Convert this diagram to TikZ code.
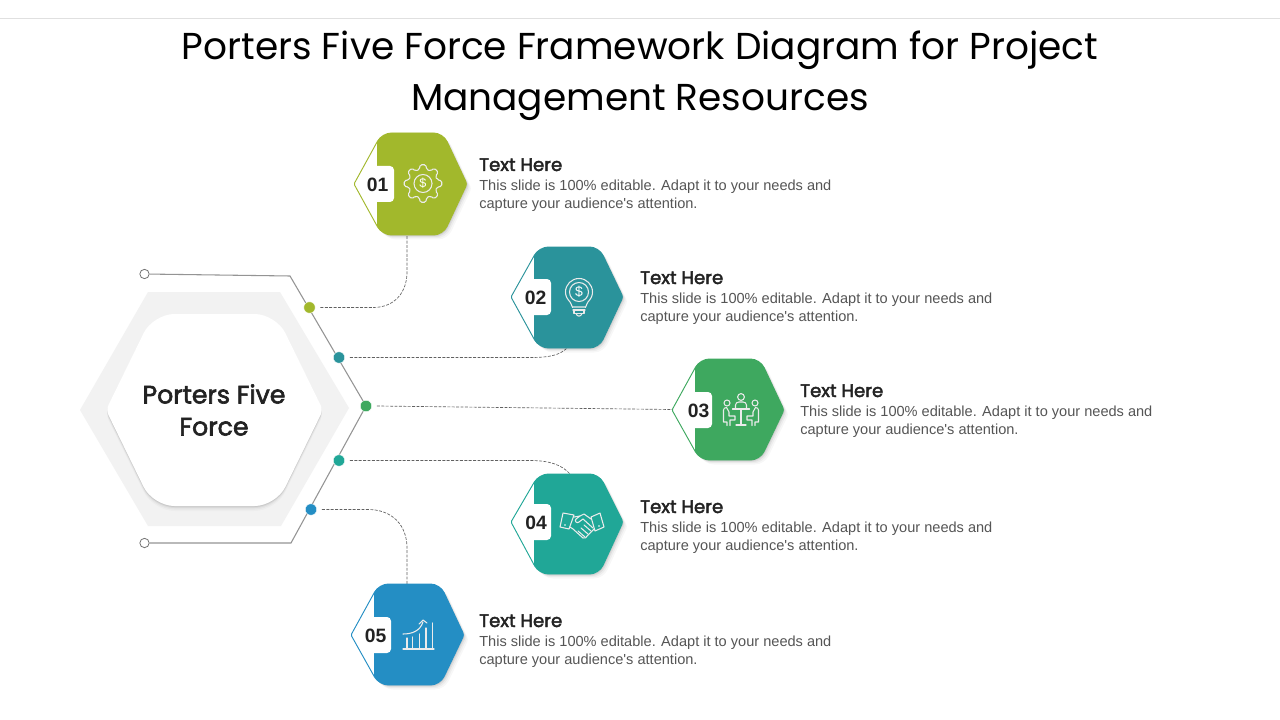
\documentclass[tikz,border=0pt]{standalone}
\usepackage{fontspec}
\setmainfont{Liberation Sans}
\newfontfamily\gothic{Poppins}
\newfontfamily\gothicb[FakeBold=2.4]{Poppins}
\usetikzlibrary{calc}
\definecolor{cA}{HTML}{A2B82C}
\definecolor{cB}{HTML}{2A939B}
\definecolor{cC}{HTML}{3EA85F}
\definecolor{cD}{HTML}{20A797}
\definecolor{cE}{HTML}{248EC4}
\definecolor{ink}{HTML}{222222}
\definecolor{bodyink}{HTML}{555555}
\tikzset{
  x=0.75pt,y=-0.75pt,
  dashlink/.style={draw=black!62,line width=0.5pt,dash pattern=on 2.2pt off 1.1pt},
  bracket/.style={draw=black!42,line width=0.8pt},
  dot/.style={circle,inner sep=0pt,minimum size=8.6pt,draw=white,line width=0.3pt,fill=#1},
  ring/.style={circle,inner sep=0pt,minimum size=7pt,draw=black!55,line width=0.6pt,fill=white},
  ico/.style={draw=white!92!black,line width=0.8pt,line cap=round,line join=round},
  headtxt/.style={anchor=base west,inner sep=0pt,font=\gothicb\fontsize{13.6}{16}\selectfont,text=ink},
  bodytxt/.style={anchor=north west,inner sep=0pt,align=left,font=\fontsize{10.93}{13.5}\selectfont,text=bodyink},
  numtxt/.style={inner sep=0pt,font=\bfseries\fontsize{14.5}{16}\selectfont,text=ink},
}
% #1 left, #2 right, #3 top, #4 bottom, #5 vertex y
\newcommand{\hexpath}[5]{%
  [rounded corners=1pt] (#1,#5)
  [rounded corners=7pt] -- ({#1+28},#3) -- ({#2-24},#3)
  [rounded corners=2pt] -- (#2,#5)
  [rounded corners=7pt] -- ({#2-24},#4) -- ({#1+28},#4)
  [rounded corners=1pt] -- cycle}
% #1 left, #2 colour start, #3 right, #4 top, #5 bottom, #6 colour, #7 number, #8 tab right, #9 vertex y
\newcommand{\hexa}[9]{%
  \begin{scope}
    \clip (#2,#4-2) rectangle (#3+8,#5+8);
    \foreach \s/\o in {4.5/0.03,3.2/0.04,2/0.06,1/0.08}{
      \begin{scope}[shift={(\s,\s)}]
        \fill[black,opacity=\o] \hexpath{#1}{#3}{#4}{#5}{#9};
      \end{scope}
    }
  \end{scope}
  \draw[#6,line width=0.7pt,fill=white,line join=round] \hexpath{#1}{#3}{#4}{#5}{#9};
  \begin{scope}
    \clip (#2,#4-2) rectangle (#3+2,#5+2);
    \fill[#6] \hexpath{#1}{#3}{#4}{#5}{#9};
  \end{scope}
  \fill[white,rounded corners=3pt] (#2-5,#9-18) rectangle (#8,#9+18);
  \fill[white] (#2-5,#9-18) rectangle (#2,#9+18);
  \node[numtxt] (n#7) at (\numx,#9+1) {#7};
}
\newcommand{\blurb}[3]{%
  \node[headtxt] (h#1) at (#2,#3) {Text Here};
  \node[bodytxt] (b#1) at (#2,#3+8.5) {This slide is 100\% editable. Adapt it to your needs and\\capture your audience\textquotesingle s attention.};
}
\begin{document}
\begin{tikzpicture}
\useasboundingbox (0,0) rectangle (1280,720);
\fill[white] (0,0) rectangle (1280,720);
\draw[black!12,line width=0.5pt] (0,18.5) -- (1280,18.5);
\node[inner sep=0pt,align=center,font=\gothic\fontsize{28.1}{38.25}\selectfont,text=black] (title) at (640,76) {Porters Five Force Framework Diagram for Project\\Management Resources};

% central hexagon
\fill[black!5] (80,410) -- (148,292) -- (280,292) -- (349,408) -- (281,526) -- (148,526) -- cycle;
\foreach \s/\o in {5/0.02,3.5/0.03,2/0.05,1/0.07}{
  \begin{scope}[shift={(0,\s)}]
    \fill[black,opacity=\o] [rounded corners=4pt] (106,410) [rounded corners=16pt] -- (153,314) -- (276,314) [rounded corners=4pt] -- (323,410) [rounded corners=16pt] -- (276,506) -- (153,506) [rounded corners=4pt] -- cycle;
  \end{scope}
}
\fill[white] [rounded corners=4pt] (106,410) [rounded corners=16pt] -- (153,314) -- (276,314) [rounded corners=4pt] -- (323,410) [rounded corners=16pt] -- (276,506) -- (153,506) [rounded corners=4pt] -- cycle;
\node[inner sep=0pt,align=center,font=\gothicb\fontsize{18.9}{24}\selectfont,text=ink] (centre) at (214,410) {Porters Five\\Force};

% bracket
\node[ring] (ra) at (144.5,274) {};
\node[ring] (rb) at (144.5,543) {};
\coordinate (ka) at (290,276);
\coordinate (kb) at (291,543);
\coordinate (kc) at (366,406);
\draw[bracket] (ra) -- (ka) -- (kc) -- (kb) -- (rb);

% dots
\node[dot=cA] (da) at (309.5,307.5) {};
\node[dot=cB] (db) at (339,357.5) {};
\node[dot=cC] (dc) at (366,406) {};
\node[dot=cD] (dd) at (339,460.5) {};
\node[dot=cE] (de) at (311,509.5) {};

\coordinate (ha) at (407,235);
\coordinate (hb) at (567,348);
\coordinate (hc) at (672,409.5);
\coordinate (hd) at (570,474);
\coordinate (he) at (407,584);
\path[dashlink] ($(da.east)+(5,0)$) -- (373,307.5) .. controls (395,307.5) and (407,292) .. (407,272) -- (ha);
\path[dashlink] ($(db.east)+(5,0)$) -- (530,357.5) .. controls (550,357.5) and (560,355) .. (hb);
\path[dashlink] ($(dc.east)+(5,0)$) -- (hc);
\path[dashlink] ($(dd.east)+(5,0)$) -- (530,460.5) .. controls (550,460.5) and (562,465) .. (hd);
\path[dashlink] ($(de.east)+(5,0)$) -- (368,509.5) .. controls (392,509.5) and (407,525) .. (407,548) -- (he);

% hexagons
\def\numx{377.5}\hexa{354}{377}{467}{133}{235}{cA}{01}{394}{184}
\def\numx{535.5}\hexa{511}{534}{623}{247}{348}{cB}{02}{551}{297}
\def\numx{698.5}\hexa{672}{695}{784}{359}{460}{cC}{03}{712}{410}
\def\numx{536}\hexa{511}{534}{623}{474}{574}{cD}{04}{551}{522}
\def\numx{375.5}\hexa{351}{374}{464}{584}{685}{cE}{05}{391}{635}

% text
\blurb{a}{479}{171}
\blurb{b}{640}{284}
\blurb{c}{800}{397}
\blurb{d}{640}{513}
\blurb{e}{479}{627}

% icon 1: gear
\begin{scope}[shift={(423,183.5)}]
  \draw[ico,rounded corners=1.2pt] (-14:14.5) \foreach \a in {0,45,...,315}{ -- ({\a-14}:14.5) -- ({\a-9}:19) -- ({\a+9}:19) -- ({\a+14}:14.5) } -- cycle;
  \draw[ico] (0,0) circle (9);
  \node[inner sep=0pt,text=white,font=\fontsize{9.5}{10}\selectfont] (ia) at (0,0) {\$};
\end{scope}
% icon 2: bulb
\begin{scope}[shift={(579,292)}]
  \draw[ico] (-6,15) to[out=-100,in=-50] (-9,10) to[out=130,in=-90] (-13.5,0) to[out=90,in=180] (0,-13.5) to[out=0,in=90] (13.5,0) to[out=-90,in=50] (9,10) to[out=-130,in=-80] (6,15) -- cycle;
  \draw[ico] (0,0) circle (9.5);
  \node[inner sep=0pt,text=white,font=\fontsize{10.5}{10}\selectfont] (ib) at (0,0) {\$};
  \draw[ico] (-6,18) -- (6,18) (-5,18) -- (-5,21.5) -- (5,21.5) -- (5,18);
  \draw[ico] (-3,21.5) .. controls (-2,25) and (2,25) .. (3,21.5);
\end{scope}
% icon 3: meeting
\begin{scope}[shift={(741,410)}]
  \draw[ico] (0,-13) circle (3.4);
  \draw[ico] (-5.5,-1) -- (-5.5,-5) to[out=90,in=180] (-2,-8) -- (2,-8) to[out=0,in=90] (5.5,-5) -- (5.5,-1);
  \draw[ico] (-8.5,-1) -- (8.5,-1) (0,-1) -- (0,15) (-5,15) -- (5,15);
  \draw[ico] (-14,-7) circle (3);
  \draw[ico] (14,-7) circle (3);
  \draw[ico] (-17.5,0) -- (-17.5,12) -- (-14,12) -- (-14,15.5) (-17.5,0) to[out=90,in=180] (-14.5,-2.5) -- (-12,2) -- (-12,6) -- (-6,6) -- (-6,10) -- (-11,10) -- (-11,15.5);
  \draw[ico] (17.5,0) -- (17.5,12) -- (14,12) -- (14,15.5) (17.5,0) to[out=90,in=0] (14.5,-2.5) -- (12,2) -- (12,6) -- (6,6) -- (6,10) -- (11,10) -- (11,15.5);
\end{scope}
% icon 4: handshake
\begin{scope}[shift={(582,526)}]
  \draw[ico] (-19,-13) -- (-8,-11) -- (-13,3) -- (-22,1) -- cycle;
  \draw[ico] (9,-9) -- (18,-13) -- (22,1) -- (13,5) -- cycle;
  \fill[white] (-17,-1) circle (0.9) (17,0) circle (0.9);
  \draw[ico] (-8,-9) -- (-2,-10) -- (2,-12) -- (9,-7);
  \draw[ico] (-12,1) -- (-9,3) -- (1,12) .. controls (3,13) and (5,11) .. (5,10) -- (12,3);
  \draw[ico] (11,2) -- (1,-7) -- (-3,-4) .. controls (-5,-2) and (-8,-5) .. (-6,-7) -- (-2,-10);
  \draw[ico] (9,5) -- (2,-1) (6,8) -- (-1,2) (3,11) -- (-4,5);
\end{scope}
% icon 5: chart
\begin{scope}[shift={(418,635)}]
  \draw[ico] (-15,14) -- (16,14);
  \draw[ico] (-11,13) -- (-11,3) (-5.5,13) -- (-5.5,2);
  \draw[ico] (1.5,13) -- (1.5,-1);
  \draw[ico] (8,13) -- (8,-7);
  \draw[ico,line width=1.1pt] (14.5,13) -- (14.5,-12);
  \draw[ico] (-15,-1) .. controls (-6,-1) and (2,-4) .. (5,-13);
  \draw[ico] (1,-11) -- (5,-15) -- (9,-12);
\end{scope}
\end{tikzpicture}
\end{document}
